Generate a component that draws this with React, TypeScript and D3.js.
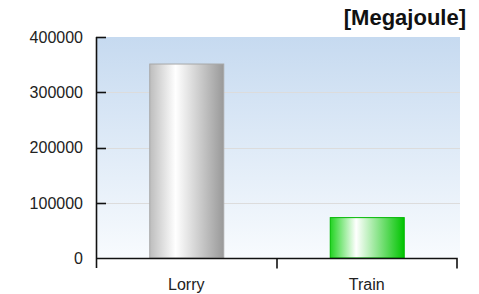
import React, { useEffect, useRef } from 'react'
import * as d3 from 'd3'

const categories = ['Lorry', 'Train']
const values = [352000, 74000]
const yTicks = [0, 100000, 200000, 300000, 400000]
const unitLabel = '[Megajoule]'

const W = 479
const H = 294
const margin = { left: 96, right: 22, top: 37, bottom: 36 }
const FONT = 'Liberation Sans, Arial, sans-serif'

export default function App() {
  const ref = useRef<SVGSVGElement>(null)

  useEffect(() => {
    const svg = d3.select(ref.current)
    svg.selectAll('*').remove()
    const width = W - margin.left - margin.right
    const height = H - margin.top - margin.bottom

    const defs = svg.append('defs')
    const bg = defs
      .append('linearGradient')
      .attr('id', 'bg')
      .attr('x1', 0)
      .attr('y1', 0)
      .attr('x2', 0)
      .attr('y2', 1)
    bg.append('stop').attr('offset', '0%').attr('stop-color', '#c6daf0')
    bg.append('stop').attr('offset', '100%').attr('stop-color', '#f8fbfe')

    const mkBar = (id: string, edge: string, mid: string, dark: string) => {
      const g = defs.append('linearGradient').attr('id', id)
      g.append('stop').attr('offset', '0%').attr('stop-color', edge)
      g.append('stop').attr('offset', '35%').attr('stop-color', mid)
      g.append('stop').attr('offset', '100%').attr('stop-color', dark)
    }
    mkBar('gLorry', '#bdbdbd', '#ffffff', '#999999')
    mkBar('gTrain', '#22d422', '#ffffff', '#00c400')
    const fills = ['url(#gLorry)', 'url(#gTrain)']
    const strokes = ['#a8a8a8', '#00b800']

    const x = d3.scaleBand().domain(categories).range([0, width]).paddingInner(0.59).paddingOuter(0.295)
    const xb = d3.scaleBand().domain(categories).range([0, width])
    const y = d3.scaleLinear().domain([0, 400000]).range([height, 0])

    const group = svg.append('g').attr('transform', `translate(${margin.left}, ${margin.top})`)

    group
      .append('rect')
      .attr('x', 0)
      .attr('y', 0)
      .attr('width', width + 3)
      .attr('height', height)
      .attr('fill', 'url(#bg)')

    // grid lines
    group
      .selectAll('.grid')
      .data(yTicks.filter(d => d > 0 && d < 400000))
      .enter()
      .append('line')
      .attr('x1', 0)
      .attr('x2', width + 3)
      .attr('y1', d => Math.round(y(d)) + 0.5)
      .attr('y2', d => Math.round(y(d)) + 0.5)
      .attr('stroke', '#dcdcdc')

    // bars
    group
      .selectAll('.bar')
      .data(values)
      .enter()
      .append('rect')
      .attr('x', (d, i) => (x(categories[i]) as number) + 0.5)
      .attr('y', d => y(d) + 0.5)
      .attr('width', x.bandwidth())
      .attr('height', d => height - y(d) - 0.5)
      .attr('fill', (d, i) => fills[i])
      .attr('stroke', (d, i) => strokes[i])

    // Y axis
    const yAxis = group.append('g')
    yAxis
      .append('line')
      .attr('x1', 0.5)
      .attr('x2', 0.5)
      .attr('y1', 0)
      .attr('y2', height + 10)
      .attr('stroke', '#111')
      .attr('stroke-width', 1.6)
    yAxis
      .selectAll('.tk')
      .data(yTicks.filter(d => d > 0))
      .enter()
      .append('line')
      .attr('x1', 0)
      .attr('x2', 10)
      .attr('y1', d => Math.round(y(d)) + 0.5)
      .attr('y2', d => Math.round(y(d)) + 0.5)
      .attr('stroke', '#111')
      .attr('stroke-width', 1.6)
    yAxis
      .selectAll('.lbl')
      .data(yTicks)
      .enter()
      .append('text')
      .attr('x', -13)
      .attr('y', d => y(d))
      .attr('dy', '0.36em')
      .attr('text-anchor', 'end')
      .attr('font-family', FONT)
      .attr('font-size', 16)
      .attr('fill', '#222')
      .text(d => d3.format('d')(d))

    // X axis
    const xAxis = group.append('g').attr('transform', `translate(0, ${height + 0.5})`)
    xAxis
      .append('path')
      .attr('d', `M0,0H${width}V10`)
      .attr('fill', 'none')
      .attr('stroke', '#111')
      .attr('stroke-width', 1.6)
    xAxis
      .selectAll('.sep')
      .data(categories.slice(1))
      .enter()
      .append('line')
      .attr('x1', d => (xb(d) as number) + 0.5)
      .attr('x2', d => (xb(d) as number) + 0.5)
      .attr('y1', 0)
      .attr('y2', 10)
      .attr('stroke', '#111')
      .attr('stroke-width', 1.6)
    xAxis
      .selectAll('.lbl')
      .data(categories)
      .enter()
      .append('text')
      .attr('x', d => (xb(d) as number) + xb.bandwidth() / 2)
      .attr('y', 31)
      .attr('text-anchor', 'middle')
      .attr('font-family', FONT)
      .attr('font-size', 16)
      .attr('fill', '#222')
      .text(d => d)

    svg
      .append('text')
      .attr('x', 466)
      .attr('y', 25)
      .attr('text-anchor', 'end')
      .attr('font-family', FONT)
      .attr('font-weight', 'bold')
      .attr('font-size', 22)
      .attr('fill', '#111')
      .text(unitLabel)
  }, [])

  return (
    <svg
      ref={ref}
      width={W}
      height={H}
      style={{ position: 'absolute', left: 0, top: 0, background: '#fff' }}
    />
  )
}
